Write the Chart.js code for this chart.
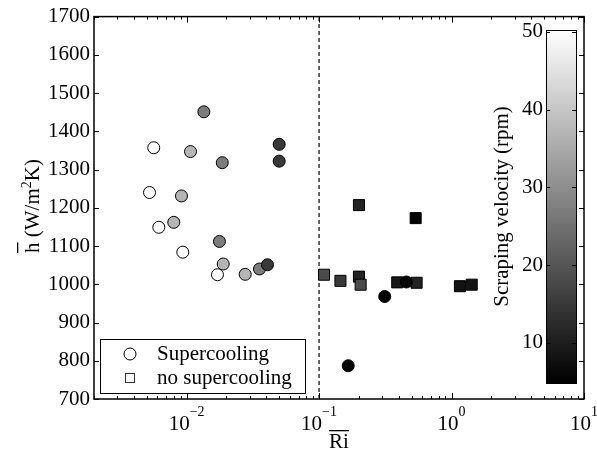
<!DOCTYPE html>
<html>
<head>
<meta charset="utf-8">
<script src="https://cdn.jsdelivr.net/npm/chart.js@4"></script>
<style>
  body { margin: 0; background: #fff; }
  canvas { display: block; }
</style>
</head>
<body>
<canvas id="ri" width="597" height="454"></canvas>
<script>
// supercooling runs (circles)
var riSuper = [0.0135, 0.00565, 0.0107, 0.0186, 0.050, 0.050, 0.00525, 0.00915, 0.0080, 0.00617,
               0.0177, 0.00936, 0.0189, 0.0171, 0.0277, 0.0355, 0.0408, 0.313, 0.166, 0.456];
var hSuper = [1451, 1357, 1347, 1318, 1366, 1322, 1240, 1231, 1162, 1149,
              1112, 1084, 1053, 1025, 1026, 1040, 1051, 968, 787, 1006];
var rpmSuper = [27, 50, 37, 27, 15, 15, 50, 37, 37, 50,
                27, 50, 37, 50, 37, 27, 15, 5, 6, 6];

// no supercooling runs (squares)
var riNoSuper = [0.109, 0.145, 0.200, 0.206, 0.389, 0.545, 1.157, 1.42, 0.200, 0.536];
var hNoSuper = [1025, 1009, 1020, 999, 1005, 1004, 995, 999, 1207, 1173];
var rpmNoSuper = [18, 15, 11, 18, 9, 11, 8, 8, 11, 5];

var riCritical = 0.1;
var xTicks = [0.01, 0.1, 1, 10];
var cbTicks = [10, 20, 30, 40, 50];
var cbMin = 4.85, cbMax = 50.25;

var serifFont = "'Liberation Serif', serif";

function grey(v) {
  var t = (v - cbMin) / (cbMax - cbMin);
  t = Math.max(0, Math.min(1, t));
  var g = Math.round(255 * t);
  return 'rgb(' + g + ',' + g + ',' + g + ')';
}

function pts(xs, ys) {
  return xs.map(function(x, i) { return {x: x, y: ys[i]} });
}

// frame, minor ticks, tick labels, titles, legend, colorbar
var decor = {
  id: 'decor',
  afterDraw: function(chart) {
    var ctx = chart.ctx, a = chart.chartArea;
    var xs = chart.scales.x, ys = chart.scales.y;
    ctx.save();
    ctx.strokeStyle = '#000';
    ctx.lineWidth = 1.5;
    ctx.strokeRect(a.left, a.top, a.right - a.left, a.bottom - a.top);

    ctx.lineWidth = 1;
    ctx.beginPath();
    for (var e = -3; e <= 1; e++) {
      for (var m = 1; m <= 9; m++) {
        var v = m * Math.pow(10, e);
        if (v < xs.min || v > xs.max) continue;
        var px = Math.round(xs.getPixelForValue(v)) + 0.5;
        var len = m === 1 ? 6 : 3;
        ctx.moveTo(px, a.bottom); ctx.lineTo(px, a.bottom - len);
        ctx.moveTo(px, a.top); ctx.lineTo(px, a.top + len);
      }
    }
    for (var yv = 700; yv <= 1700; yv += 100) {
      var py = Math.round(ys.getPixelForValue(yv)) + 0.5;
      ctx.moveTo(a.left, py); ctx.lineTo(a.left + 5, py);
      ctx.moveTo(a.right, py); ctx.lineTo(a.right - 5, py);
    }
    ctx.stroke();

    // x tick labels 10^n
    ctx.fillStyle = '#000';
    ctx.textBaseline = 'alphabetic';
    xTicks.forEach(function(t) {
      var ex = String(Math.round(Math.log10(t))).replace('-', '\u2212');
      ctx.font = '21px ' + serifFont;
      var wb = ctx.measureText('10').width;
      ctx.font = '14px ' + serifFont;
      var we = ctx.measureText(ex).width;
      var x0 = xs.getPixelForValue(t) - (wb + we) / 2;
      ctx.font = '21px ' + serifFont;
      ctx.textAlign = 'left';
      ctx.fillText('10', x0, 430);
      ctx.font = '14px ' + serifFont;
      ctx.fillText(ex, x0 + wb, 416);
    });

    // x title: Ri with overbar
    ctx.font = '21px ' + serifFont;
    ctx.textAlign = 'center';
    var cx = (a.left + a.right) / 2;
    ctx.fillText('Ri', cx, 448);
    var wr = ctx.measureText('Ri').width;
    ctx.fillRect(cx - wr / 2, 430, wr, 1.3);

    // y title: h-bar (W/m^2K)
    ctx.save();
    ctx.translate(39, 206);
    ctx.rotate(-Math.PI / 2);
    var parts = [['h', 21, 0], [' (W/m', 21, 0], ['2', 14, -8], ['K)', 21, 0]];
    var tot = 0;
    parts.forEach(function(p) { ctx.font = p[1] + 'px ' + serifFont; tot += ctx.measureText(p[0]).width; });
    var tx = -tot / 2;
    ctx.textAlign = 'left';
    parts.forEach(function(p, i) {
      ctx.font = p[1] + 'px ' + serifFont;
      ctx.fillText(p[0], tx, p[2]);
      var w = ctx.measureText(p[0]).width;
      if (i === 0) ctx.fillRect(tx, -22, w, 1.3);
      tx += w;
    });
    ctx.restore();

    // legend
    ctx.fillStyle = '#fff';
    ctx.fillRect(100, 339, 205, 54);
    ctx.strokeStyle = '#000';
    ctx.lineWidth = 1;
    ctx.strokeRect(100.5, 339.5, 205, 54);
    ctx.beginPath();
    ctx.arc(130, 354, 6, 0, Math.PI * 2);
    ctx.fillStyle = '#fff'; ctx.fill(); ctx.stroke();
    ctx.strokeStyle = '#333';
    ctx.strokeRect(125.5, 373.5, 9, 9);
    ctx.fillStyle = '#000';
    ctx.font = '21px ' + serifFont;
    ctx.textAlign = 'left';
    ctx.textBaseline = 'middle';
    ctx.fillText('Supercooling', 157, 354);
    ctx.fillText('no supercooling', 157, 378);

    // colorbar
    var cl = 546, cr = 576, ct = 30, cb = 383;
    var grad = ctx.createLinearGradient(0, cb, 0, ct);
    grad.addColorStop(0, '#000');
    grad.addColorStop(1, '#fff');
    ctx.fillStyle = grad;
    ctx.fillRect(cl, ct, cr - cl, cb - ct);
    ctx.strokeStyle = '#000';
    ctx.strokeRect(cl + 0.5, ct + 0.5, cr - cl, cb - ct);
    ctx.fillStyle = '#000';
    ctx.textAlign = 'right';
    ctx.beginPath();
    cbTicks.forEach(function(t) {
      var y = cb - (t - cbMin) / (cbMax - cbMin) * (cb - ct);
      var yy = Math.round(y) + 0.5;
      ctx.moveTo(cl, yy); ctx.lineTo(cl + 4, yy);
      ctx.moveTo(cr, yy); ctx.lineTo(cr - 4, yy);
      ctx.fillText(String(t), 543, y);
    });
    ctx.stroke();

    ctx.save();
    ctx.translate(502, (ct + cb) / 2);
    ctx.rotate(-Math.PI / 2);
    ctx.textAlign = 'center';
    ctx.textBaseline = 'middle';
    ctx.fillText('Scraping velocity (rpm)', 0, 0);
    ctx.restore();

    ctx.restore();
  }
};

new Chart('ri', {
  type: 'scatter',
  plugins: [decor],
  data: {
    datasets: [
      {
        label: 'Ri = 0.1',
        type: 'line',
        data: [{x: riCritical, y: 700}, {x: riCritical, y: 1700}],
        borderColor: '#333',
        borderWidth: 1.5,
        borderDash: [4, 3],
        pointRadius: 0,
        showLine: true,
        order: 3
      },
      {
        label: 'Supercooling',
        data: pts(riSuper, hSuper),
        pointStyle: 'circle',
        pointRadius: 6,
        pointBackgroundColor: rpmSuper.map(grey),
        pointBorderColor: '#000',
        pointBorderWidth: 1,
        order: 1
      },
      {
        label: 'no supercooling',
        data: pts(riNoSuper, hNoSuper),
        pointStyle: 'rect',
        pointRadius: 7.8,
        pointBackgroundColor: rpmNoSuper.map(grey),
        pointBorderColor: '#000',
        pointBorderWidth: 1,
        order: 2
      }
    ]
  },
  options: {
    responsive: false,
    animation: false,
    layout: {padding: {left: 0, top: 15, right: 13, bottom: 0}},
    plugins: {legend: {display: false}, tooltip: {enabled: false}},
    scales: {
      x: {
        type: 'logarithmic',
        min: 0.002,
        max: 10,
        grid: {display: false, drawTicks: false},
        border: {display: false},
        ticks: {display: false},
        afterFit: function(s) { s.height = 55; }
      },
      y: {
        min: 700,
        max: 1700,
        grid: {display: false, drawTicks: false},
        border: {display: false},
        ticks: {
          stepSize: 100,
          padding: 4,
          color: '#000',
          font: {family: serifFont, size: 21},
          callback: function(v) { return String(v); }
        },
        afterFit: function(s) { s.width = 94; }
      }
    }
  }
});
</script>
</body>
</html>
